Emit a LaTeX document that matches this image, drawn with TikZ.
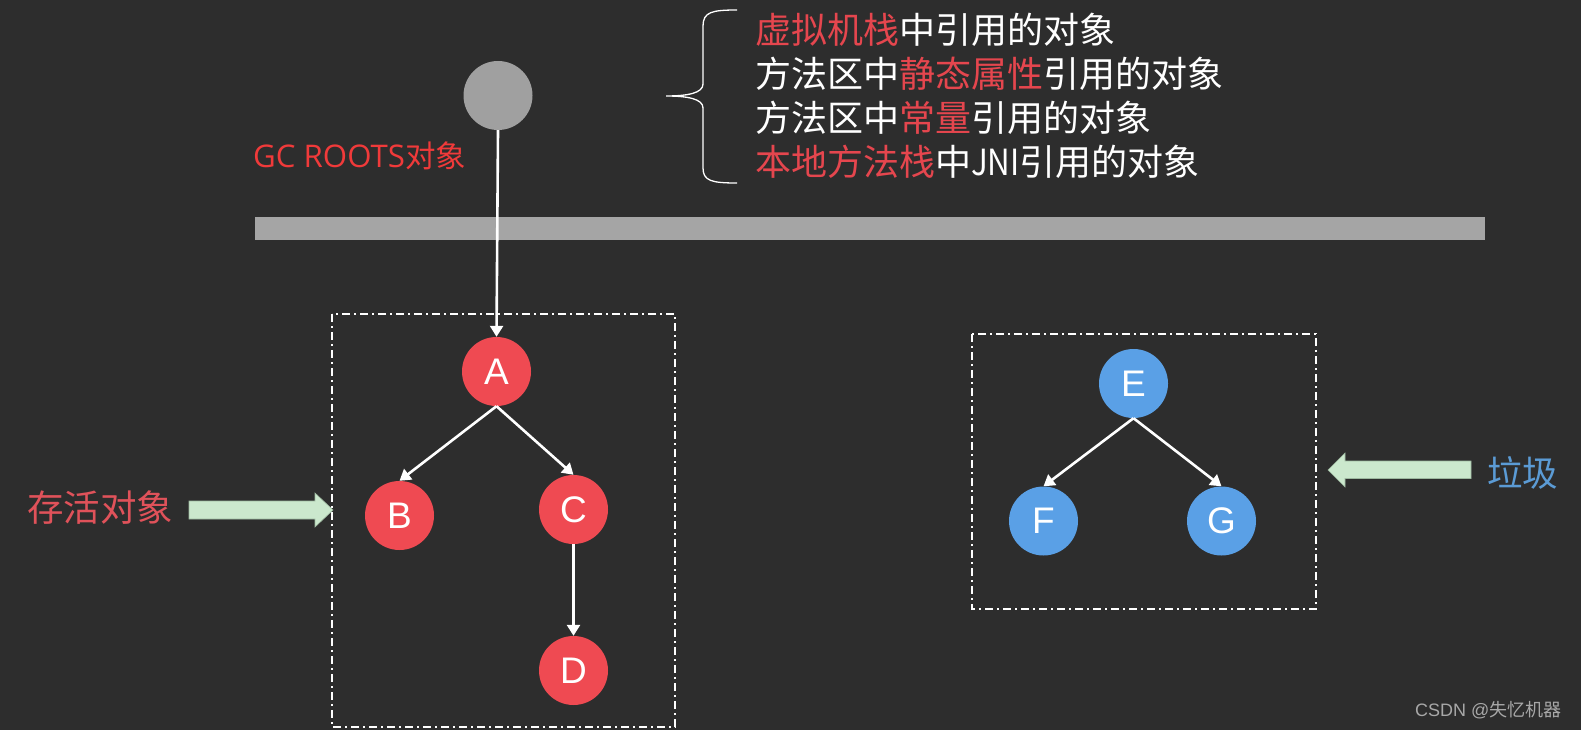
\documentclass[tikz,border=0pt]{standalone}
\usepackage{fontspec}
\setmainfont{Liberation Sans}
\newfontfamily\cjk{Noto Sans CJK SC}
\newfontfamily\lat{Open Sans}
\usetikzlibrary{arrows.meta}
\definecolor{bg}{HTML}{2D2D2D}
\definecolor{objred}{HTML}{EF4A52}
\definecolor{objblue}{HTML}{5AA0E6}
\definecolor{rootgray}{HTML}{A0A0A0}
\definecolor{bargray}{HTML}{A5A5A5}
\definecolor{txtred}{HTML}{E5464E}
\definecolor{gcred}{HTML}{F03A3A}
\definecolor{liveRed}{HTML}{E0525A}
\definecolor{gbblue}{HTML}{5B9BD5}
\definecolor{arrgreen}{HTML}{CBE8CD}
\definecolor{arrgreenedge}{HTML}{9DB89F}
\definecolor{wm}{HTML}{A8A8A8}
\newcommand{\hl}[1]{\textcolor{txtred}{#1}}
\tikzset{
  obj/.style={circle, minimum size=69pt, inner sep=0pt, text=white,
    font=\fontsize{37}{40}\selectfont},
  redobj/.style={obj, fill=objred},
  blueobj/.style={obj, fill=objblue},
  ref/.style={draw=white, line width=2.6pt, -{Triangle[length=11pt,width=13pt]}},
  groupbox/.style={draw=white, line width=2pt, dash pattern=on 8pt off 4pt on 2pt off 4pt},
  reftext/.style={anchor=base west, inner sep=0pt, text=white,
    font=\cjk\fontsize{36}{40}\selectfont},
  blockarrow/.style={fill=arrgreen, draw=arrgreenedge, line width=0.6pt}
}
\begin{document}
\begin{tikzpicture}[x=1pt,y=-1pt]
\useasboundingbox[fill=bg] (0,0) rectangle (1581,730);

% separator bar
\fill[bargray] (255,217) rectangle (1485,240);

% GC root
\node[circle, fill=rootgray, minimum size=69pt, inner sep=0pt] (root) at (498,95.5) {};
\node[anchor=base west, inner sep=0pt, text=gcred] (gclabel) at (253,167.5)
  {\lat\fontsize{31.2}{34}\selectfont GC ROOTS\cjk\fontsize{30.5}{34}\selectfont 对象};

% brace
\draw[white, line width=1.3pt] (737,10) .. controls (712,10) and (703,12) .. (703,26)
  -- (703,84) .. controls (703,93) and (688,96) .. (666,96)
  .. controls (688,96) and (703,99) .. (703,108)
  -- (703,168) .. controls (703,181) and (712,183) .. (737,183);

% list of roots
\node[reftext] (l1) at (755,43.7) {\hl{虚拟机栈}中引用的对象};
\node[reftext] (l2) at (755,87.7) {方法区中\hl{静态属性}引用的对象};
\node[reftext] (l3) at (755,131.2) {方法区中\hl{常量}引用的对象};
\node[reftext] (l4) at (755,175.7) {\hl{本地方法栈}中\scalebox{0.87}[1]{JNI}引用的对象};

% groups
\draw[groupbox] (332,314) rectangle (675,727);
\draw[groupbox] (972,334) rectangle (1316,609);

% live objects
\node[redobj] (A) at (496.5,371.5) {A};
\node[redobj] (B) at (399.5,515.5) {B};
\node[redobj] (C) at (573.5,509.5) {C};
\node[redobj] (D) at (573.5,670.5) {D};

% garbage
\node[blueobj] (E) at (1133.5,383.5) {E};
\node[blueobj] (F) at (1043.5,521) {F};
\node[blueobj] (G) at (1221.5,521) {G};

% references
\draw[ref] (root.south) -- (A.north);
\draw[ref] (A.south) -- (B.north);
\draw[ref] (A.south) -- (C.north);
\draw[ref] (C.south) -- (D.north);
\draw[ref] (E.south) -- (F.north);
\draw[ref] (E.south) -- (G.north);

% side labels and block arrows
\node[anchor=base west, inner sep=0pt, text=liveRed, font=\cjk\fontsize{36.5}{40}\selectfont] (live) at (27,521.5) {存活对象};
\draw[blockarrow] (189,501) -- (315,501) -- (315,493) -- (333,510) -- (315,527) -- (315,519) -- (189,519) -- cycle;

\node[anchor=base west, inner sep=0pt, text=gbblue, font=\cjk\fontsize{35.5}{40}\selectfont] (garbage) at (1487,486.5) {垃圾};
\draw[blockarrow] (1471,461) -- (1345,461) -- (1345,453) -- (1328,470) -- (1345,487) -- (1345,478.5) -- (1471,478.5) -- cycle;

% watermark
\node[anchor=base west, inner sep=0pt, text=wm, font=\fontsize{18}{20}\selectfont] (wmark) at (1415,716) {CSDN @{\cjk 失忆机器}};
\end{tikzpicture}
\end{document}
